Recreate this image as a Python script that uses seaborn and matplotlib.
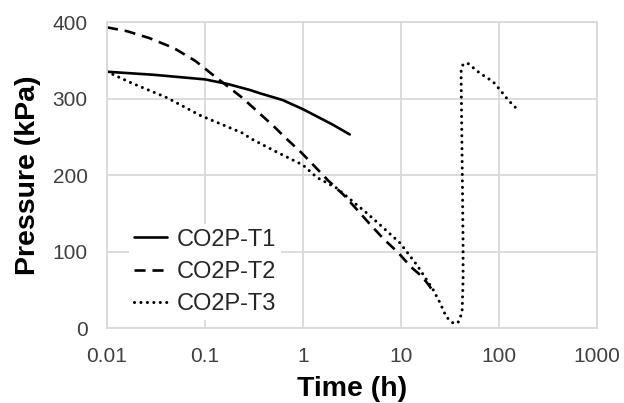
import numpy as np
import pandas as pd
import matplotlib
matplotlib.use("Agg")
import matplotlib.pyplot as plt
import seaborn as sns

# ---- data ----
t1_time = [0.01, 0.03, 0.1, 0.17, 0.29, 0.36, 0.62, 1.0, 2.0, 3.0]
t1_pres = [335, 331, 325, 319, 311, 307, 298, 286, 266, 253]

t2_time = [0.01, 0.016, 0.027, 0.048, 0.08, 0.12, 0.24, 0.35, 0.5, 0.67, 0.95,
           1.3, 1.8, 2.6, 3.6, 4.8, 6.7, 9.3, 12.6, 16.5, 19.5, 22.0]
t2_pres = [393, 388, 379, 366, 349, 331, 301, 282, 264, 248, 230,
           212, 193, 174, 154, 136, 116, 99, 80, 67, 55, 45]

t3_time = [0.01, 0.018, 0.041, 0.089, 0.24, 0.29, 0.54, 1.0, 1.38, 2.2,
           4.5, 6.1, 9.8, 14.6, 21.3, 25, 29, 34, 38, 42, 43, 43, 42.5,
           41, 43, 48, 64, 87, 103, 124, 156]
t3_pres = [335, 320, 301, 278, 255, 248, 230, 213, 197, 183,
           150, 135, 111, 82, 50, 33, 14.5, 6.5, 6.5, 20, 63, 106, 171,
           335, 345, 346, 333, 322, 311, 298, 285]

labels = ["CO2P-T1", "CO2P-T2", "CO2P-T3"]
x_ticks = [0.01, 0.1, 1, 10, 100, 1000]
x_tick_labels = ["0.01", "0.1", "1", "10", "100", "1000"]
y_ticks = [0, 100, 200, 300, 400]

sns.set_theme(style="white")
plt.rcParams["font.family"] = ["Liberation Sans", "DejaVu Sans"]

fig = plt.figure(figsize=(6.24, 4.03), dpi=100)
ax = fig.add_axes([0.1715, 0.186, 0.9567 - 0.1715, 0.9454 - 0.186])

d1 = pd.DataFrame({"t": t1_time, "p": t1_pres})
d2 = pd.DataFrame({"t": t2_time, "p": t2_pres})
d3 = pd.DataFrame({"t": t3_time, "p": t3_pres})

lw = 1.9
sns.lineplot(data=d1, x="t", y="p", ax=ax, color="black", lw=lw,
             sort=False, estimator=None, label=labels[0])
sns.lineplot(data=d2, x="t", y="p", ax=ax, color="black", lw=lw,
             sort=False, estimator=None, label=labels[1],
             linestyle=(0, (4.2, 2.6)))
sns.lineplot(data=d3, x="t", y="p", ax=ax, color="black", lw=2.2,
             sort=False, estimator=None, label=labels[2],
             linestyle=(0, (0.01, 2.1)), dash_capstyle="round")

ax.set_xscale("log")
ax.set_xlim(0.01, 1000)
ax.set_ylim(0, 400)
ax.set_xticks(x_ticks)
ax.set_xticklabels(x_tick_labels)
ax.minorticks_off()
ax.set_yticks(y_ticks)
ax.tick_params(axis="both", length=0, labelsize=15, colors="#404040")
ax.tick_params(axis="x", pad=14)
ax.tick_params(axis="y", pad=14)
ax.grid(True, which="major", color="#d9d9d9", lw=1.3)
for s in ax.spines.values():
    s.set_color("#d9d9d9")
    s.set_linewidth(1.3)

ax.set_xlabel("Time (h)", fontsize=20.5, fontweight="bold", color="black", labelpad=7)
ax.set_ylabel("Pressure (kPa)", fontsize=20.5, fontweight="bold", color="black", labelpad=8)

leg = ax.legend(loc="lower left", bbox_to_anchor=(0.045, 0.026), fontsize=17,
                frameon=True, framealpha=1, facecolor="white", edgecolor="none",
                handlelength=1.4, handletextpad=0.42, labelspacing=0.44,
                borderaxespad=0.0, borderpad=0.2)
leg.get_frame().set_linewidth(0)

fig.savefig("out.png", dpi=100)
